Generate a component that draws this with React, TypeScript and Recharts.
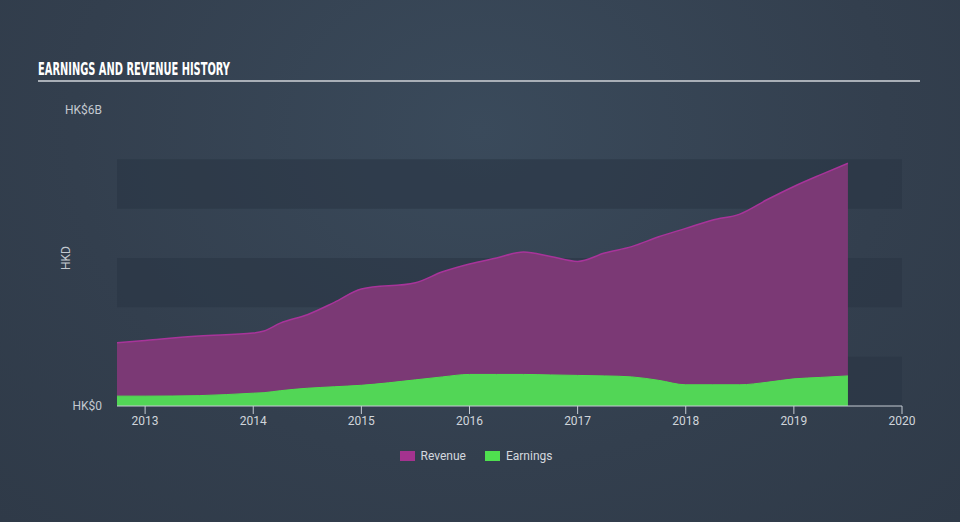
import { AreaChart, Area, XAxis, YAxis, ReferenceArea } from 'recharts';

// fiscal dates as decimal years, values in HK$ billions
const dates = [2012.74, 2013.0, 2013.5, 2014.0, 2014.1, 2014.25, 2014.5, 2014.75, 2015.0, 2015.5, 2015.75, 2016.0, 2016.25, 2016.5, 2016.75, 2017.0, 2017.25, 2017.5, 2017.75, 2018.0, 2018.25, 2018.5, 2018.75, 2019.0, 2019.25, 2019.5];
const revenue = [1.28, 1.33, 1.42, 1.48, 1.52, 1.68, 1.85, 2.1, 2.37, 2.5, 2.72, 2.88, 3.0, 3.12, 3.03, 2.93, 3.1, 3.23, 3.43, 3.6, 3.77, 3.89, 4.18, 4.45, 4.69, 4.92];
const earnings = [0.2, 0.2, 0.21, 0.26, 0.27, 0.31, 0.36, 0.39, 0.42, 0.53, 0.59, 0.64, 0.64, 0.64, 0.63, 0.62, 0.61, 0.59, 0.52, 0.43, 0.43, 0.43, 0.48, 0.55, 0.58, 0.61];
const yearTicks = [2013, 2014, 2015, 2016, 2017, 2018, 2019, 2020];
const bands = [[0, 1], [2, 3], [4, 5]];

const data = dates.map((d, i) => ({ date: d, Revenue: revenue[i], Earnings: earnings[i] }));

const FONT = "Roboto, 'Open Sans', sans-serif";

function LegendBox() {
  const items = [
    { name: 'Revenue', color: '#a4338f' },
    { name: 'Earnings', color: '#4fe04f' },
  ];
  return (
    <div style={{ display: 'flex', justifyContent: 'center', gap: 19, paddingRight: 8 }}>
      {items.map(it => (
        <div key={it.name} style={{ display: 'flex', alignItems: 'center', gap: 6, fontFamily: FONT, fontSize: 12, color: '#d3d8de' }}>
          <span style={{ width: 15, height: 10, background: it.color, display: 'inline-block' }} />
          {it.name}
        </div>
      ))}
    </div>
  );
}

// rotated axis title, centred on the axis box
const AxisTitle = (props: any) => {
  const vb = props.viewBox || {};
  const x = vb.x + 9;
  const y = vb.y + vb.height / 2;
  return (
    <text x={x} y={y} transform={`rotate(-90 ${x} ${y})`} textAnchor="middle" dominantBaseline="central" fill="#c3c9d0" fontSize={12} fontFamily={FONT}>
      HKD
    </text>
  );
};

export default function App() {
  return (
    <div style={{ position: 'relative', width: 960, height: 522, background: 'radial-gradient(ellipse at 50% 25%, #3a4a5b 0%, #333f4e 60%, #2f3a48 100%)', overflow: 'hidden' }}>
      <style>{`body{margin:0}`}</style>
      <svg width={960} height={90} style={{ position: 'absolute', left: 0, top: 0 }}>
        <text x={38} y={75} fill="#ffffff" fontFamily="'DejaVu Sans Condensed', 'Liberation Sans Narrow', sans-serif" fontWeight="bold" fontSize={17} textLength={192} lengthAdjust="spacingAndGlyphs">
          EARNINGS AND REVENUE HISTORY
        </text>
        <rect x={38} y={80} width={882} height={2} fill="#a9afb7" />
      </svg>
      <div style={{ position: 'absolute', left: 0, top: 0 }}>
        <AreaChart width={960} height={522} data={data} margin={{ top: 110, right: 58, bottom: 86, left: 57 }}>
          {bands.map(([a, b]) => (
            <ReferenceArea key={a} y1={a} y2={b} fill="#2a3644" fillOpacity={0.6} stroke="none" ifOverflow="visible" />
          ))}
          <XAxis
            dataKey="date"
            type="number"
            domain={[2012.74, 2020]}
            ticks={yearTicks}
            allowDataOverflow
            height={30}
            tickSize={8}
            tickMargin={2}
            stroke="#c5cbd3"
            tick={{ fill: '#d0d5db', fontSize: 12, fontFamily: FONT }}
            tickLine={{ stroke: '#c5cbd3' }}
          />
          <YAxis
            domain={[0, 6]}
            ticks={[0, 6]}
            width={60}
            axisLine={false}
            tickLine={false}
            tickSize={0}
            tickMargin={15}
            tickFormatter={(v: number) => `HK$${v === 0 ? '0' : v + 'B'}`}
            tick={{ fill: '#c3c9d0', fontSize: 12, fontFamily: FONT }}
            label={{ content: AxisTitle }}
          />
          <Area type="monotone" dataKey="Revenue" stroke="#a8349a" strokeWidth={1.5} fill="#7b3975" fillOpacity={1} isAnimationActive={false} />
          <Area type="monotone" dataKey="Earnings" stroke="#4fe04f" strokeWidth={1} fill="#52d656" fillOpacity={1} isAnimationActive={false} />
        </AreaChart>
      </div>
      <div style={{ position: 'absolute', left: 0, top: 449, width: 960 }}>
        <LegendBox />
      </div>
    </div>
  );
}
